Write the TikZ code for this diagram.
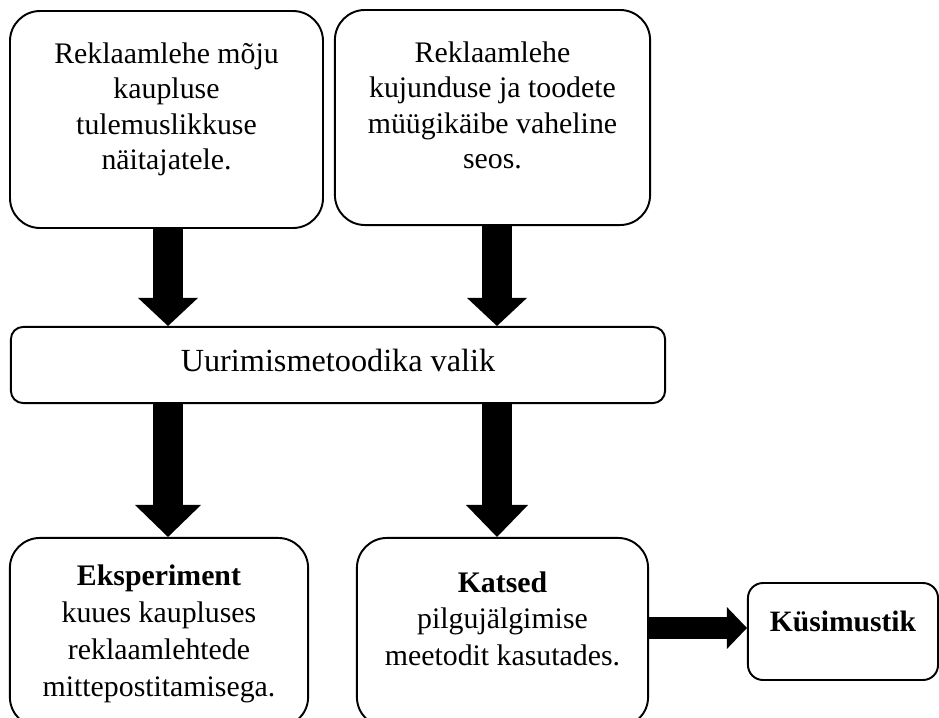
\documentclass[tikz,border=0pt]{standalone}
\usepackage{fontspec}
\setmainfont{Liberation Serif}
\usetikzlibrary{arrows.meta,positioning}

\begin{document}
\begin{tikzpicture}[x=0.0145cm,y=-0.0145cm,line width=0.8pt,
    box/.style={draw,rounded corners=12.4pt,inner sep=0pt},
    txt/.style={align=center,inner sep=0pt,font=\fontsize{12.3}{14.6}\selectfont},
    fatarrow/.style 2 args={line width=12.4pt,-{Triangle[length=#1,width=#2,line width=0pt]}}]

            \useasboundingbox (0,0) rectangle (939,717);
            \clip (0,0) rectangle (939,717);

            \node[box,minimum width=129.1pt,minimum height=89.5pt] (a) at (166.5,119.5) {};
            \node[box,minimum width=130pt,minimum height=88.7pt] (b) at (492.5,117.5) {};
            \node[box,rounded corners=5pt,minimum width=269.8pt,minimum height=31.4pt,
                  text depth=4pt,font=\fontsize{13.3}{16}\selectfont] (m) at (338,365) {Uurimismetoodika valik};
            \node[box,minimum width=123pt,minimum height=78pt] (c) at (159,632.5) {};
            \node[box,minimum width=120.1pt,minimum height=78pt] (d) at (502.5,632.5) {};
            \node[box,rounded corners=6.2pt,minimum width=78.4pt,minimum height=40pt,
                  text depth=8.4pt,font=\fontsize{12.2}{14}\selectfont\bfseries] (e) at (843,631.5) {Küsimustik};

            \node[txt] (atxt) [below=13.1pt of a.north] {Reklaamlehe mõju\\kaupluse\\tulemuslikkuse\\näitajatele.};
            \node[txt] (btxt) [below=13.1pt of b.north] {Reklaamlehe\\kujunduse ja toodete\\müügikäibe vaheline\\seos.};
            \node[txt,font=\fontsize{12.3}{15.2}\selectfont] (ctxt) [below=11.1pt of c.north]
                 {\textbf{Eksperiment}\\kuues kaupluses\\reklaamlehtede\\mittepostitamisega.};
            \node[txt,font=\fontsize{12.3}{15}\selectfont] (dtxt) [below=13.9pt of d.north]
                 {\textbf{Katsed}\\pilgujälgimise\\meetodit kasutades.};

            \coordinate (colL) at (168,0);
            \coordinate (colR) at (497,0);
            \coordinate (rowK) at (0,628);

            \draw[fatarrow={11.6pt}{24.8pt}] (a.south -| colL) -- (m.north -| colL);
            \draw[fatarrow={11.6pt}{24.8pt}] (b.south -| colR) -- (m.north -| colR);
            \draw[fatarrow={13.2pt}{27.2pt}] (m.south -| colL) -- (c.north -| colL);
            \draw[fatarrow={13.2pt}{25.6pt}] (m.south -| colR) -- (d.north -| colR);
            \draw[fatarrow={8.3pt}{17.3pt},line width=8.7pt] (d.east |- rowK) -- (e.west |- rowK);

        \end{tikzpicture}
\end{document}
